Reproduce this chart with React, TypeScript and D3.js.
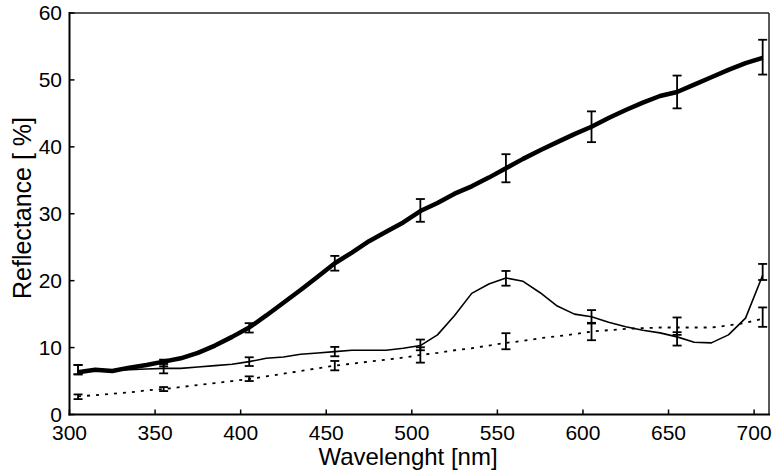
import React from "react";
import * as d3 from "d3";

const wavelengths = [305,315,325,335,345,355,365,375,385,395,405,415,425,435,445,455,465,475,485,495,505,515,525,535,545,555,565,575,585,595,605,615,625,635,645,655,665,675,685,695,705];

const thickSeries = [6.3,6.7,6.5,7.0,7.4,7.9,8.4,9.2,10.3,11.6,13.0,14.8,16.7,18.6,20.6,22.6,24.2,25.9,27.3,28.7,30.4,31.6,33.0,34.1,35.4,36.8,38.2,39.5,40.7,41.9,43.0,44.3,45.5,46.6,47.6,48.2,49.3,50.4,51.5,52.5,53.3];
const thinSeries = [6.5,6.6,6.6,6.7,6.8,6.9,6.9,7.1,7.3,7.5,7.9,8.4,8.6,9.0,9.2,9.4,9.6,9.6,9.6,9.9,10.3,11.9,14.8,18.1,19.5,20.4,19.9,18.2,16.2,15.0,14.6,13.8,13.1,12.6,12.2,11.6,10.8,10.7,11.9,14.4,20.8];
const dottedSeries = [2.7,2.9,3.1,3.3,3.6,3.8,4.1,4.4,4.7,5.0,5.3,5.7,6.1,6.5,6.9,7.3,7.6,7.9,8.2,8.5,8.9,9.2,9.6,9.9,10.3,10.7,11.0,11.4,11.7,12.0,12.4,12.6,12.8,12.9,13.0,13.0,13.0,13.0,13.3,13.7,14.3];

const barWavelengths = [305,355,405,455,505,555,605,655,705];
const thickBarMean = [6.7,7.7,12.95,22.6,30.5,36.8,43.0,48.2,53.4];
const thickBarErr = [0.7,0.5,0.7,1.1,1.7,2.1,2.3,2.45,2.6];
const thinBarMean = [6.7,6.85,7.9,9.4,10.4,20.35,14.6,11.3,21.3];
const thinBarErr = [0.7,0.7,0.65,0.7,0.8,1.1,1.0,1.0,1.2];
const dottedBarMean = [2.65,3.8,5.35,7.3,8.9,10.95,12.4,13.2,14.55];
const dottedBarErr = [0.35,0.3,0.35,0.7,1.15,1.2,1.3,1.3,1.45];

const xTicks = [300,350,400,450,500,550,600,650,700];
const yTicks = [0,10,20,30,40,50,60];
const xTitle = "Wavelenght [nm]";
const yTitle = "Reflectance [ %]";

const W = 773, H = 474;
const L = 69.5, R = 769, T = 13, B = 414.5;

export default function App() {
  const x = d3.scaleLinear().domain([300, 708.7]).range([L, R]);
  const y = d3.scaleLinear().domain([0, 60]).range([B, T]);
  const line = d3.line<number>().x((_, i) => x(wavelengths[i])).y(d => y(d));
  const font = "'Liberation Sans', Arial, Helvetica, sans-serif";

  const bars = (means: number[], errs: number[], key: string) =>
    barWavelengths.map((w, i) => {
      const cx = x(w), y1 = y(means[i] + errs[i]), y2 = y(means[i] - errs[i]);
      return (
        <g key={key + i} stroke="#000" strokeWidth={1.8}>
          <line x1={cx} x2={cx} y1={y1} y2={y2} />
          <line x1={cx - 4.5} x2={cx + 4.5} y1={y1} y2={y1} />
          <line x1={cx - 4.5} x2={cx + 4.5} y1={y2} y2={y2} />
        </g>
      );
    });

  return (
    <svg width={W} height={H} style={{ position: "absolute", left: 0, top: 0, background: "#fff" }} fontFamily={font}>
      <rect x={0} y={0} width={W} height={H} fill="#fff" />
      {/* frame */}
      <line x1={L} x2={R} y1={T} y2={T} stroke="#222" strokeWidth={1.5} />
      <line x1={R} x2={R} y1={T} y2={B} stroke="#222" strokeWidth={1.5} />
      <line x1={L} x2={L} y1={T - 1} y2={B + 1} stroke="#000" strokeWidth={2} />
      <line x1={L - 1} x2={R + 1} y1={B} y2={B} stroke="#000" strokeWidth={2} />
      {/* ticks */}
      {xTicks.map(t => (
        <g key={"xt" + t}>
          <line x1={x(t)} x2={x(t)} y1={B} y2={B - 5} stroke="#000" strokeWidth={1.5} />
          <text x={x(t)} y={440} fontSize={21} textAnchor="middle" fill="#000">{t}</text>
        </g>
      ))}
      {yTicks.map(t => (
        <g key={"yt" + t}>
          <line x1={L} x2={L + 5} y1={y(t)} y2={y(t)} stroke="#000" strokeWidth={1.5} />
          <text x={62} y={y(t) + 7} fontSize={21} textAnchor="end" fill="#000">{t}</text>
        </g>
      ))}
      {/* titles */}
      <text x={408} y={465} fontSize={24} textAnchor="middle" fill="#000">{xTitle}</text>
      <text transform={`translate(31,208) rotate(-90)`} fontSize={25} textAnchor="middle" fill="#000">{yTitle}</text>
      {/* series */}
      <path d={line(dottedSeries) || ""} fill="none" stroke="#000" strokeWidth={1.8} strokeDasharray="3 6" />
      <path d={line(thinSeries) || ""} fill="none" stroke="#000" strokeWidth={1.6} strokeLinejoin="round" />
      <path d={line(thickSeries) || ""} fill="none" stroke="#000" strokeWidth={4.5} strokeLinejoin="round" />
      {bars(dottedBarMean, dottedBarErr, "d")}
      {bars(thinBarMean, thinBarErr, "t")}
      {bars(thickBarMean, thickBarErr, "k")}
    </svg>
  );
}
